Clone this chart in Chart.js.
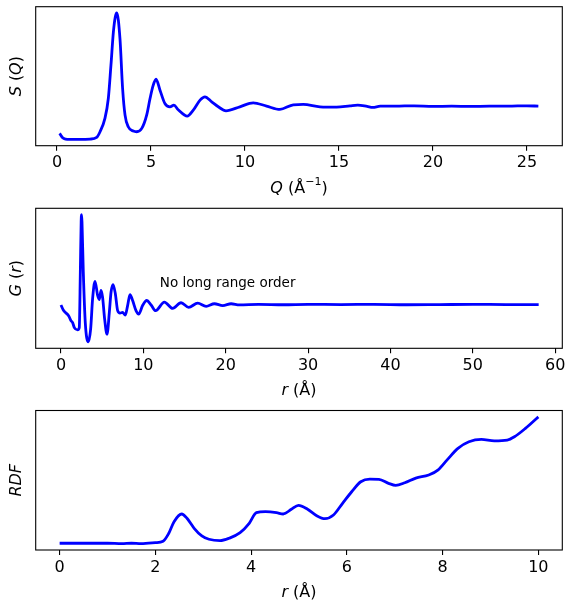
<!DOCTYPE html>
<html>
<head>
<meta charset="utf-8">
<script src="https://cdn.jsdelivr.net/npm/chart.js@4/dist/chart.umd.min.js"></script>
<style>
  body { margin: 0; background: #fff; }
  canvas { display: block; }
</style>
</head>
<body>
<canvas id="sqChart" width="573" height="200"></canvas>
<canvas id="grChart" width="573" height="200"></canvas>
<canvas id="rdfChart" width="573" height="204"></canvas>
<script>
// S(Q) structure factor
const qValues = [0.14, 0.30, 0.45, 0.69, 1.22, 1.76, 2.11, 2.29, 2.55, 2.73, 2.87, 3.00, 3.10, 3.18, 3.35, 3.49,
  3.62, 3.79, 4.06, 4.24, 4.51, 4.77, 4.95, 5.12, 5.27, 5.48, 5.74, 6.01, 6.22, 6.45, 6.93, 7.25, 7.61, 7.87,
  8.23, 8.58, 8.99, 9.73, 10.44, 11.15, 11.86, 12.57, 13.10, 13.99, 14.88, 15.59, 16.0, 16.5, 16.8, 17.2,
  18.0, 19.0, 20.0, 21.0, 22.0, 23.0, 24.0, 25.0, 25.61];
const sqValues = [0.18, 0.05, 0.01, 0.00, 0.00, 0.01, 0.06, 0.23, 0.63, 1.23, 2.23, 3.23, 3.68, 3.80, 3.03, 1.53,
  0.73, 0.38, 0.25, 0.23, 0.33, 0.73, 1.23, 1.63, 1.81, 1.48, 1.08, 0.98, 1.03, 0.89, 0.70, 0.88, 1.18, 1.28,
  1.13, 0.98, 0.86, 0.98, 1.10, 1.00, 0.90, 1.04, 1.05, 0.98, 0.97, 1.01, 1.03, 0.99, 0.96, 1.00,
  1.00, 1.01, 0.99, 1.00, 0.99, 1.00, 1.00, 1.01, 1.00];
const qTicks = [0, 5, 10, 15, 20, 25];

// G(r) pair distribution function
const rValues = [0, 0.28, 0.61, 0.92, 1.22, 1.41, 1.62, 2.02, 2.22, 2.35, 2.45, 2.50, 2.55, 2.71, 2.95, 3.32,
  3.60, 3.84, 4.13, 4.45, 4.65, 4.86, 5.05, 5.30, 5.59, 5.87, 6.08, 6.32, 6.60, 6.88, 7.17, 7.48, 7.81, 8.09,
  8.38, 8.70, 9.11, 9.43, 9.91, 10.40, 10.94, 11.49, 12.55, 13.56, 14.58, 15.50, 16.60, 17.62, 18.63, 19.64,
  20.66, 21.66, 24, 27, 30, 34, 38, 42, 46, 50, 54, 58];
const grValues = [-0.02, -0.27, -0.42, -0.55, -0.80, -0.89, -1.14, -1.25, -1.14, 1.62, 4.10, 4.45, 4.10, 1.62, -0.89, -1.85,
  -1.22, 0.29, 1.15, 0.45, 0.25, 0.70, 0.37, -0.72, -1.47, -0.39, 0.62, 0.99, 0.54, -0.30, -0.42, -0.39, -0.52, -0.05,
  0.49, 0.20, -0.30, -0.47, -0.05, 0.20, -0.02, -0.30, 0.12, -0.19, 0.09, -0.14, 0.07, -0.09, 0.04, -0.05,
  0.04, -0.02, 0.01, -0.01, 0.01, 0.00, 0.01, -0.01, 0.00, 0.01, 0.00, 0.00];
const rTicks = [0, 10, 20, 30, 40, 50, 60];

// RDF
const rdfR = [0, 0.5, 1.0, 1.3, 1.5, 1.7, 2.0, 2.16, 2.28, 2.39, 2.55, 2.66, 2.81, 2.97, 3.12, 3.35, 3.54, 3.77,
  3.96, 4.11, 4.30, 4.53, 4.67, 4.84, 4.99, 5.18, 5.37, 5.54, 5.72, 5.91, 6.10, 6.29, 6.48, 6.67, 6.87, 7.02,
  7.21, 7.44, 7.71, 7.90, 8.09, 8.32, 8.55, 8.81, 9.08, 9.35, 9.50, 9.73, 10.0];
const rdfValues = [0.02, 0.02, 0.02, -0.02, 0.02, -0.02, 0.08, 0.22, 1.02, 2.18, 2.95, 2.52, 1.52, 0.75, 0.42, 0.28, 0.52, 1.08,
  2.02, 3.08, 3.18, 3.08, 2.95, 3.42, 3.82, 3.42, 2.78, 2.48, 2.85, 4.02, 5.18, 6.18, 6.45, 6.42, 6.02, 5.82,
  6.08, 6.55, 6.85, 7.35, 8.35, 9.52, 10.18, 10.42, 10.28, 10.35, 10.68, 11.52, 12.68];
const rdfTicks = [0, 2, 4, 6, 8, 10];

Chart.defaults.font.family = '"DejaVu Sans", sans-serif';
Chart.defaults.color = '#000';

const FONT = 16;

function partFont(p) {
  const size = p.sup ? Math.round(FONT * 0.7) : FONT;
  return (p.it ? 'italic ' : '') + size + 'px "DejaVu Sans"';
}

function drawParts(ctx, parts, x, y, angle) {
  ctx.save();
  ctx.translate(x, y);
  ctx.rotate(angle);
  ctx.fillStyle = '#000';
  ctx.textBaseline = 'middle';
  let total = 0;
  parts.forEach(p => { ctx.font = partFont(p); total += ctx.measureText(p.t).width; });
  let cx = -total / 2;
  parts.forEach(p => {
    ctx.font = partFont(p);
    ctx.fillText(p.t, cx, p.sup ? -FONT * 0.38 : 0);
    cx += ctx.measureText(p.t).width;
  });
  ctx.restore();
}

const panelPlugin = {
  id: 'panel',
  afterDraw(chart, args, opts) {
    const ctx = chart.ctx;
    const a = chart.chartArea;
    ctx.save();
    ctx.strokeStyle = '#000';
    ctx.lineWidth = 1.1;
    ctx.strokeRect(a.left, a.top, a.right - a.left, a.bottom - a.top);
    ctx.restore();
    drawParts(ctx, opts.xTitle, (a.left + a.right) / 2, a.bottom + 43, 0);
    drawParts(ctx, opts.yTitle, 17, (a.top + a.bottom) / 2, -Math.PI / 2);
    if (opts.note) {
      const xs = chart.scales.x, ys = chart.scales.y;
      ctx.save();
      ctx.font = '13.5px "DejaVu Sans"';
      ctx.fillStyle = '#000';
      ctx.textBaseline = 'alphabetic';
      ctx.fillText(opts.note.text, xs.getPixelForValue(opts.note.x), ys.getPixelForValue(opts.note.y));
      ctx.restore();
    }
  }
};

function margins(arr) {
  const lo = Math.min(...arr), hi = Math.max(...arr);
  const m = (hi - lo) * 0.05;
  return [lo - m, hi + m];
}

function makePanel(id, xs, ys, ticks, topPad, xHeight, xTitle, yTitle, note, xBounds) {
  const [xMin, xMax] = xBounds || margins(xs);
  const [yMin, yMax] = margins(ys);
  return new Chart(document.getElementById(id), {
    type: 'line',
    data: {
      datasets: [{
        data: xs.map((x, i) => ({ x: x, y: ys[i] })),
        borderColor: '#0000ff',
        borderWidth: 2.8,
        pointRadius: 0,
        fill: false,
        cubicInterpolationMode: 'monotone'
      }]
    },
    options: {
      responsive: false,
      animation: false,
      devicePixelRatio: 1,
      layout: { padding: { top: topPad, right: 10.7, left: 0, bottom: 0 } },
      plugins: {
        legend: { display: false },
        tooltip: { enabled: false },
        panel: { xTitle: xTitle, yTitle: yTitle, note: note }
      },
      scales: {
        x: {
          type: 'linear',
          min: xMin,
          max: xMax,
          border: { display: false },
          grid: { display: true, drawOnChartArea: false, drawTicks: true, tickLength: 5, color: '#000', lineWidth: 1.1 },
          ticks: { font: { size: FONT }, color: '#000', padding: 3, maxRotation: 0, autoSkip: false,
            callback: v => String(v) },
          afterBuildTicks: s => { s.ticks = ticks.map(v => ({ value: v })); },
          afterFit: s => { s.height = xHeight; }
        },
        y: {
          min: yMin,
          max: yMax,
          border: { display: false },
          grid: { display: false },
          ticks: { display: false },
          afterFit: s => { s.width = 35.7; }
        }
      }
    },
    plugins: [panelPlugin]
  });
}

const sqChart = makePanel('sqChart', qValues, sqValues, qTicks, 6.7, 54.3,
  [{ t: 'Q', it: true }, { t: ' (Å' }, { t: '−1', sup: true }, { t: ')' }],
  [{ t: 'S', it: true }, { t: ' (' }, { t: 'Q', it: true }, { t: ')' }]);

const grChart = makePanel('grChart', rValues, grValues, rTicks, 8.3, 51.7,
  [{ t: 'r', it: true }, { t: ' (Å)' }],
  [{ t: 'G', it: true }, { t: ' (' }, { t: 'r', it: true }, { t: ')' }],
  { text: 'No long range order', x: 12, y: 0.88 }, [-3.07, 60.87]);

const rdfChart = makePanel('rdfChart', rdfR, rdfValues, rdfTicks, 10.5, 54,
  [{ t: 'r', it: true }, { t: ' (Å)' }],
  [{ t: 'RDF', it: true }]);
</script>
</body>
</html>
